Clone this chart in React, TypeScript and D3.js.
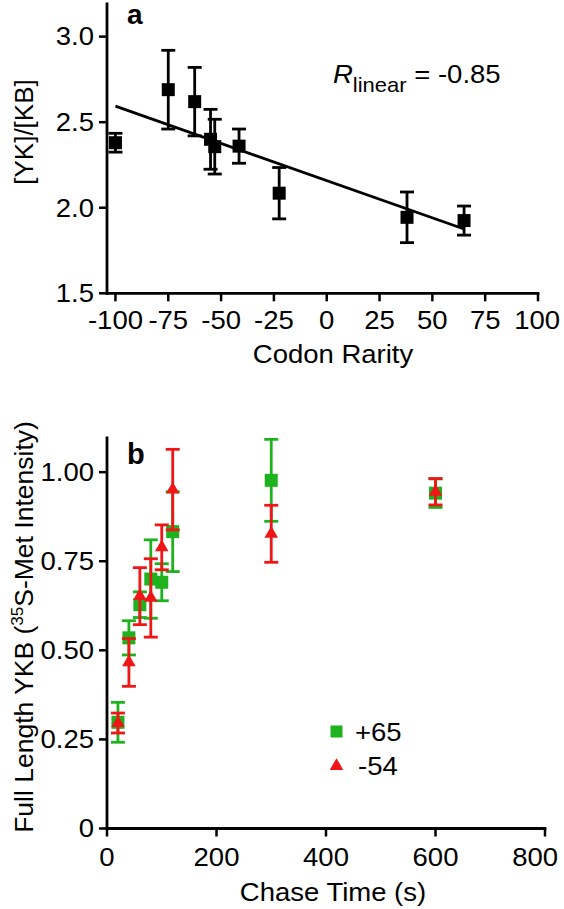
import React from "react";
import * as d3 from "d3";

// ---- Panel a data ----
const rarity = [-100, -75, -62.5, -55, -53, -41.5, -22.5, 38, 65];
const ratio = [2.38, 2.69, 2.62, 2.4, 2.357, 2.36, 2.085, 1.944, 1.925];
const ratioErr = [0.055, 0.23, 0.2, 0.175, 0.16, 0.1, 0.15, 0.148, 0.085];
const aXTicks = [-100, -75, -50, -25, 0, 25, 50, 75, 100];
const aYTicks = [1.5, 2.0, 2.5, 3.0];

// ---- Panel b data ----
const chaseTime = [20, 40, 60, 80, 100, 120, 300, 600];
const plus65 = [0.298, 0.535, 0.628, 0.7, 0.691, 0.833, 0.977, 0.941];
const plus65Err = [0.056, 0.048, 0.036, 0.11, 0.052, 0.112, 0.115, 0.04];
const minus54 = [0.296, 0.466, 0.652, 0.647, 0.789, 0.951, 0.827, 0.945];
const minus54Err = [0.028, 0.067, 0.08, 0.11, 0.063, 0.113, 0.08, 0.037];
const bXTicks = [0, 200, 400, 600, 800];
const bYTicks = [0, 0.25, 0.5, 0.75, 1.0];
const bYTickLabels = ["0", "0.25", "0.50", "0.75", "1.00"];

const GREEN = "#1fb21f";
const RED = "#ee1616";
const FONT = "'Liberation Sans', Arial, Helvetica, sans-serif";
const SX = 1.1;
const W = 564;

function Txt(props: {
  x: number;
  y: number;
  anchor?: string;
  size?: number;
  weight?: string;
  children: React.ReactNode;
}) {
  const { x, y, anchor = "start", size = 25, weight = "normal", children } = props;
  return (
    <text
      transform={`translate(${x},${y}) scale(${SX},1)`}
      textAnchor={anchor}
      fontSize={size}
      fontWeight={weight}
    >
      {children}
    </text>
  );
}

// approximate half width of a numeric tick label (Arial digit = 0.556em)
const halfW = (s: string) => (s.length * 0.556 * 25 * SX) / 2;

export default function App() {
  const ax = d3.scaleLinear().domain([-104, 100]).range([107, 538]);
  const ay = d3.scaleLinear().domain([1.5, 3.2]).range([293.3, 2.4]);
  const bx = d3.scaleLinear().domain([0, 800]).range([107, 545]);
  const by = d3.scaleLinear().domain([0, 1.1]).range([828.5, 436.5]);

  // linear regression
  const mx = d3.mean(rarity) as number;
  const my = d3.mean(ratio) as number;
  let sxy = 0,
    sxx = 0;
  rarity.forEach((x, i) => {
    sxy += (x - mx) * (ratio[i] - my);
    sxx += (x - mx) * (x - mx);
  });
  const slope = sxy / sxx;
  const icpt = my - slope * mx;
  const fitX = [d3.min(rarity) as number, d3.max(rarity) as number];
  const fitLine = d3
    .line<number>()
    .x((d) => ax(d))
    .y((d) => ay(icpt + slope * d))(fitX) as string;

  const tri = d3.symbol().type(d3.symbolTriangle).size(80)() as string;
  const capW = 7;
  const tickLen = 8;

  const errBar = (x: number, y0: number, y1: number, color: string, key: string) => (
    <g key={key} stroke={color} strokeWidth={2.8} fill="none">
      <line x1={x} x2={x} y1={y0} y2={y1} />
      <line x1={x - capW} x2={x + capW} y1={y0} y2={y0} />
      <line x1={x - capW} x2={x + capW} y1={y1} y2={y1} />
    </g>
  );

  return (
    <svg
      width={W}
      height={909}
      style={{ position: "absolute", left: 0, top: 0, background: "#fff" }}
      fontFamily={FONT}
    >
      <rect width={W} height={909} fill="#fff" />
      {/* ================= Panel a ================= */}
      <g>
        <line x1={ax(-104)} x2={ax(-104)} y1={ay(3.2)} y2={ay(1.5) + 1.4} stroke="#000" strokeWidth={2.8} />
        <line x1={ax(-104) - 1.4} x2={ax(100) + 1.4} y1={ay(1.5)} y2={ay(1.5)} stroke="#000" strokeWidth={2.8} />
        {aYTicks.map((t) => (
          <g key={"ay" + t}>
            <line x1={ax(-104) - tickLen} x2={ax(-104)} y1={ay(t)} y2={ay(t)} stroke="#000" strokeWidth={2.5} />
            <Txt x={ax(-104) - 13} y={ay(t) + 8.8} anchor="end">
              {t.toFixed(1)}
            </Txt>
          </g>
        ))}
        {aXTicks.map((t) => (
          <g key={"ax" + t}>
            <line x1={ax(t)} x2={ax(t)} y1={ay(1.5)} y2={ay(1.5) + tickLen} stroke="#000" strokeWidth={2.5} />
            <Txt x={Math.min(ax(t), W - 4 - halfW(String(t)))} y={329} anchor="middle">
              {t}
            </Txt>
          </g>
        ))}
        <Txt x={333} y={363} anchor="middle">
          Codon Rarity
        </Txt>
        <text transform="translate(33,132) rotate(-90)" textAnchor="middle" fontSize={26}>
          [YK]/[KB]
        </text>
        <text x={127} y={24} fontSize={28} fontWeight="bold">
          a
        </text>
        <text transform={`translate(333,83) scale(${SX},1)`} fontSize={25}>
          <tspan fontStyle="italic">R</tspan>
          <tspan fontSize={20} dy={9}>
            linear
          </tspan>
          <tspan dy={-9}> = -0.85</tspan>
        </text>

        <path d={fitLine} stroke="#000" strokeWidth={2.8} fill="none" />
        {rarity.map((x, i) =>
          errBar(ax(x), ay(ratio[i] + ratioErr[i]), ay(ratio[i] - ratioErr[i]), "#000", "ae" + i)
        )}
        {rarity.map((x, i) => (
          <rect key={"ap" + i} x={ax(x) - 6.5} y={ay(ratio[i]) - 6.5} width={13} height={13} fill="#000" />
        ))}
      </g>

      {/* ================= Panel b ================= */}
      <g>
        <line x1={bx(0)} x2={bx(0)} y1={by(1.1)} y2={by(0) + 1.4} stroke="#000" strokeWidth={2.8} />
        <line x1={bx(0) - 1.4} x2={bx(800) + 1.4} y1={by(0)} y2={by(0)} stroke="#000" strokeWidth={2.8} />
        {bYTicks.map((t, i) => (
          <g key={"by" + t}>
            <line x1={bx(0) - tickLen} x2={bx(0)} y1={by(t)} y2={by(t)} stroke="#000" strokeWidth={2.5} />
            <Txt x={bx(0) - 13} y={by(t) + 8.8} anchor="end">
              {bYTickLabels[i]}
            </Txt>
          </g>
        ))}
        {bXTicks.map((t) => (
          <g key={"bx" + t}>
            <line x1={bx(t)} x2={bx(t)} y1={by(0)} y2={by(0) + tickLen} stroke="#000" strokeWidth={2.5} />
            <Txt x={Math.min(bx(t), W - 6 - halfW(String(t)))} y={866} anchor="middle">
              {t}
            </Txt>
          </g>
        ))}
        <Txt x={333} y={901} anchor="middle">
          Chase Time (s)
        </Txt>
        <text transform="translate(33,627) rotate(-90)" textAnchor="middle" fontSize={26.5}>
          Full Length YKB (
          <tspan fontSize={17} dy={-10}>
            35
          </tspan>
          <tspan dy={10}>S-Met Intensity)</tspan>
        </text>
        <text x={127} y={464} fontSize={29} fontWeight="bold">
          b
        </text>

        {chaseTime.map((t, i) =>
          errBar(bx(t), by(plus65[i] + plus65Err[i]), by(plus65[i] - plus65Err[i]), GREEN, "ge" + i)
        )}
        {chaseTime.map((t, i) => (
          <rect key={"gp" + i} x={bx(t) - 6.5} y={by(plus65[i]) - 6.5} width={13} height={13} fill={GREEN} />
        ))}
        {chaseTime.map((t, i) =>
          errBar(bx(t), by(minus54[i] + minus54Err[i]), by(minus54[i] - minus54Err[i]), RED, "re" + i)
        )}
        {chaseTime.map((t, i) => (
          <path key={"rp" + i} d={tri} transform={`translate(${bx(t)},${by(minus54[i])})`} fill={RED} />
        ))}

        {/* legend */}
        <rect x={330.5} y={725.5} width={12} height={12} fill={GREEN} />
        <Txt x={355} y={741}>+65</Txt>
        <path d={tri} transform="translate(336.5,766)" fill={RED} />
        <Txt x={358} y={775}>-54</Txt>
      </g>
    </svg>
  );
}
